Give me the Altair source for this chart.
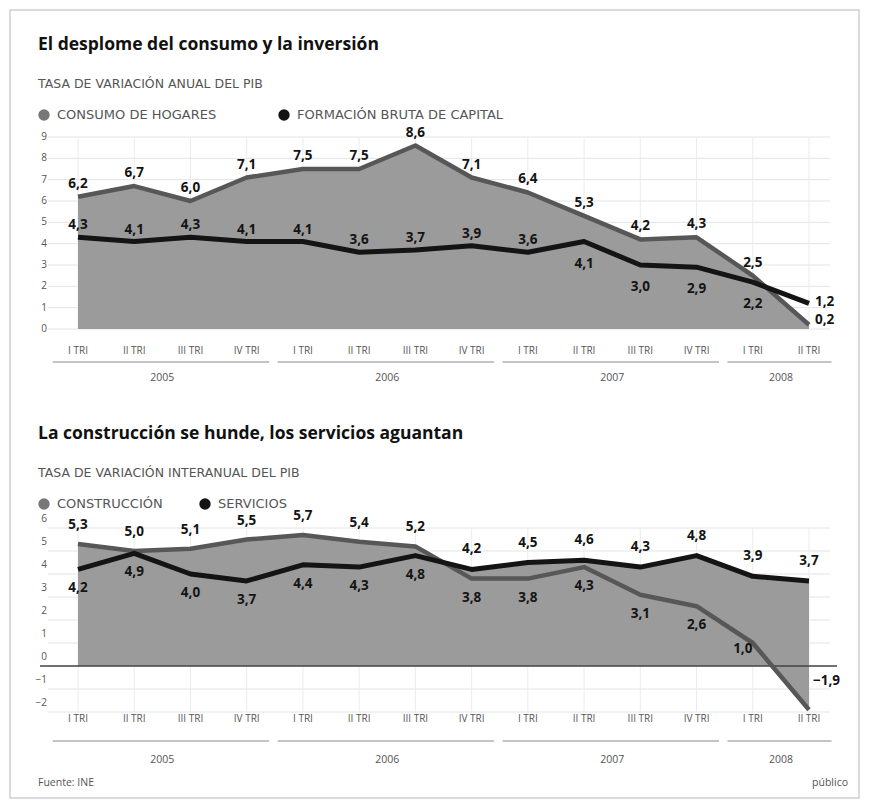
import altair as alt
import pandas as pd

# ---------------- data ----------------
quarters = ["I TRI", "II TRI", "III TRI", "IV TRI",
            "I TRI", "II TRI", "III TRI", "IV TRI",
            "I TRI", "II TRI", "III TRI", "IV TRI",
            "I TRI", "II TRI"]
years = ["2005"] * 4 + ["2006"] * 4 + ["2007"] * 4 + ["2008"] * 2

consumo = [6.2, 6.7, 6.0, 7.1, 7.5, 7.5, 8.6, 7.1, 6.4, 5.3, 4.2, 4.3, 2.5, 0.2]
fbc = [4.3, 4.1, 4.3, 4.1, 4.1, 3.6, 3.7, 3.9, 3.6, 4.1, 3.0, 2.9, 2.2, 1.2]
construccion = [5.3, 5.0, 5.1, 5.5, 5.7, 5.4, 5.2, 3.8, 3.8, 4.3, 3.1, 2.6, 1.0, -1.9]
servicios = [4.2, 4.9, 4.0, 3.7, 4.4, 4.3, 4.8, 4.2, 4.5, 4.6, 4.3, 4.8, 3.9, 3.7]

ticks_top = [0, 1, 2, 3, 4, 5, 6, 7, 8, 9]
ticks_bottom = [-2, -1, 0, 1, 2, 3, 4, 5, 6]

title_top = "El desplome del consumo y la inversión"
subtitle_top = "TASA DE VARIACIÓN ANUAL DEL PIB"
series_top = ["CONSUMO DE HOGARES", "FORMACIÓN BRUTA DE CAPITAL"]
title_bottom = "La construcción se hunde, los servicios aguantan"
subtitle_bottom = "TASA DE VARIACIÓN INTERANUAL DEL PIB"
series_bottom = ["CONSTRUCCIÓN", "SERVICIOS"]
source = "Fuente: INE"
brand = "público"

# ---------------- tables ----------------
df = pd.DataFrame({
    "i": list(range(len(quarters))),
    "quarter": quarters,
    "year": years,
    "consumo": consumo,
    "fbc": fbc,
    "construccion": construccion,
    "servicios": servicios,
})
groups = df.groupby("year", as_index=False).agg(s=("i", "min"), e=("i", "max"))
groups["m"] = (groups["s"] + groups["e"]) / 2

FONT = "Open Sans"
SMALL = "DejaVu Sans"
FILL = "#9b9b9b"
GREYLINE = "#575757"
BLACK = "#141414"
TXT = "#555555"

X = alt.Scale(domain=[0, 13], range=[70, 801])
YT = alt.Scale(domain=[0, 9], range=[321, 129])
YB = alt.Scale(domain=[-2, 6], range=[704, 520])

base = alt.Chart(df)
one = alt.Chart(pd.DataFrame({"k": [0]}))


def xq():
    return alt.X("i:Q", scale=X, axis=None)


def fmt(field):
    return f"replace(format(datum['{field}'], '.1f'), '.', ',')"


def labels(field, ys, flt, dx=0, dy=0, align="center"):
    return (base.transform_filter(flt)
            .transform_calculate(lab=fmt(field))
            .mark_text(font=FONT, fontSize=13.5, fontWeight="bold", color=BLACK,
                       dx=dx, dy=dy, align=align, baseline="middle")
            .encode(x=xq(), y=alt.Y(f"{field}:Q", scale=ys, axis=None), text="lab:N"))


def panel(ys, ticks, ylab_dy, y_qlab, y_rule, y_year):
    tdf = alt.Chart(pd.DataFrame({"t": ticks}))
    grid = tdf.mark_rule(color="#e4e4e4", strokeWidth=1).encode(
        y=alt.Y("t:Q", scale=ys, axis=None), x=alt.value(40), x2=alt.value(822))
    vgrid = base.mark_rule(color="#ececec", strokeWidth=1).encode(
        x=xq(), y=alt.value(ys.range[1]), y2=alt.value(ys.range[0]))
    ylab = tdf.mark_text(font=FONT, fontSize=10, color=TXT, align="right", dy=ylab_dy).encode(
        y=alt.Y("t:Q", scale=ys, axis=None), x=alt.value(39), text="t:Q")
    qlab = base.mark_text(font=FONT, fontSize=10, color=TXT).encode(
        x=xq(), y=alt.value(y_qlab), text="quarter:N")
    yrule = (alt.Chart(groups)
             .transform_calculate(a="datum.s - 0.45", b="datum.e + 0.4")
             .mark_rule(color="#8a8a8a", strokeWidth=1)
             .encode(x=alt.X("a:Q", scale=X, axis=None), x2="b:Q", y=alt.value(y_rule)))
    ylabel = alt.Chart(groups).mark_text(font=FONT, fontSize=10.5, color=TXT).encode(
        x=alt.X("m:Q", scale=X, axis=None), y=alt.value(y_year), text="year:N")
    return [grid, vgrid, ylab, qlab, yrule, ylabel]


def header(title, subtitle, names, y0, leg_x):
    t = one.mark_text(font=FONT, fontSize=17.5, fontWeight="bold", color="#111", align="left",
                      baseline="middle").encode(x=alt.value(30), y=alt.value(y0), text=alt.value(title))
    s = one.mark_text(font=SMALL, fontSize=12.5, color=TXT, align="left", baseline="middle").encode(
        x=alt.value(30), y=alt.value(y0 + 39), text=alt.value(subtitle))
    out = [t, s]
    for name, lx, col in zip(names, leg_x, ["#777777", BLACK]):
        out.append(one.mark_circle(size=130, color=col, opacity=1).encode(
            x=alt.value(lx), y=alt.value(y0 + 70)))
        out.append(one.mark_text(font=SMALL, fontSize=13, color=TXT, align="left",
                                 baseline="middle").encode(
            x=alt.value(lx + 13), y=alt.value(y0 + 70), text=alt.value(name)))
    return out


layers = []

# frame
layers.append(one.mark_rect(fillOpacity=0, stroke="#cfcfcf", strokeWidth=1.5).encode(
    x=alt.value(2), x2=alt.value(851), y=alt.value(2), y2=alt.value(790)))

# ---------------- top panel ----------------
layers += header(title_top, subtitle_top, series_top, 37, [36, 276])
layers += panel(YT, ticks_top, 0, 343, 354, 370)
layers.append(base.mark_area(color=FILL, opacity=1).encode(
    x=xq(), y=alt.Y("consumo:Q", scale=YT, axis=None), y2=alt.datum(0)))
layers.append(base.mark_line(color=GREYLINE, strokeWidth=4.5, strokeJoin="round").encode(
    x=xq(), y=alt.Y("consumo:Q", scale=YT, axis=None)))
layers.append(base.mark_line(color=BLACK, strokeWidth=5, strokeJoin="round").encode(
    x=xq(), y=alt.Y("fbc:Q", scale=YT, axis=None)))
layers.append(labels("consumo", YT, "datum.i < 13", dy=-13))
layers.append(labels("consumo", YT, "datum.i == 13", dx=6, dy=-5, align="left"))
layers.append(labels("fbc", YT, "datum.i < 9", dy=-12))
layers.append(labels("fbc", YT, "datum.i >= 9 && datum.i < 13", dy=22))
layers.append(labels("fbc", YT, "datum.i == 13", dx=6, dy=-1, align="left"))

# ---------------- bottom panel ----------------
layers += header(title_bottom, subtitle_bottom, series_bottom, 426, [36, 197])
layers += panel(YB, ticks_bottom, -9, 711, 733, 752)
layers.append(base.mark_area(color=FILL, opacity=1).encode(
    x=xq(), y=alt.Y("servicios:Q", scale=YB, axis=None), y2=alt.datum(0)))
layers.append(base.mark_area(color=FILL, opacity=1).encode(
    x=xq(), y=alt.Y("construccion:Q", scale=YB, axis=None), y2=alt.datum(0)))
layers.append(one.mark_rule(color="#444444", strokeWidth=1.5).encode(
    y=alt.YDatum(0, scale=YB, axis=None), x=alt.value(32), x2=alt.value(829)))
layers.append(base.mark_line(color=GREYLINE, strokeWidth=4.5, strokeJoin="round").encode(
    x=xq(), y=alt.Y("construccion:Q", scale=YB, axis=None)))
layers.append(base.mark_line(color=BLACK, strokeWidth=5, strokeJoin="round").encode(
    x=xq(), y=alt.Y("servicios:Q", scale=YB, axis=None)))
layers.append(labels("construccion", YB, "datum.i < 7", dy=-19))
layers.append(labels("construccion", YB, "datum.i >= 7 && datum.i < 12", dy=19))
layers.append(labels("construccion", YB, "datum.i == 12", dx=-10, dy=6))
layers.append(labels("construccion", YB, "datum.i == 13", dx=4, dy=-29, align="left"))
layers.append(labels("servicios", YB, "datum.i < 7", dy=19))
layers.append(labels("servicios", YB, "datum.i >= 7", dy=-20))

# footer
layers.append(one.mark_text(font=FONT, fontSize=10.5, color=TXT, align="left").encode(
    x=alt.value(30), y=alt.value(775), text=alt.value(source)))
layers.append(one.mark_text(font=FONT, fontSize=10.5, color=TXT, align="right").encode(
    x=alt.value(840), y=alt.value(775), text=alt.value(brand)))

chart = (alt.layer(*layers)
         .resolve_scale(y="independent")
         .properties(width=853, height=792, padding=0, autosize="none",
                     background="white")
         .configure_view(stroke=None))

chart.save("out.html", embed_options={"renderer": "svg", "actions": False})
